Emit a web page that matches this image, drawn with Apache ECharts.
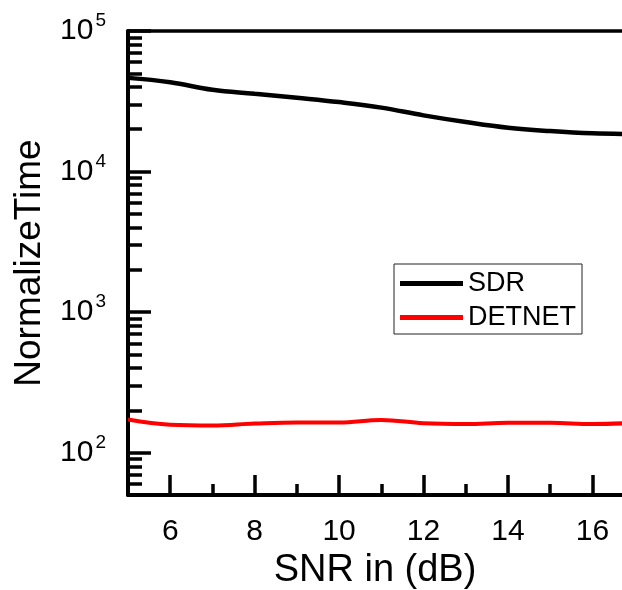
<!DOCTYPE html>
<html>
<head>
<meta charset="utf-8">
<script src="https://cdn.jsdelivr.net/npm/echarts@6/dist/echarts.min.js"></script>
<style>
  html, body { margin: 0; padding: 0; background: #fff; }
  #chart { width: 622px; height: 590px; }
</style>
</head>
<body>
<div id="chart"></div>
<script>
// SNR points (dB)
const snr = [5, 6, 7, 8, 9, 10, 11, 12, 13, 14, 15, 16, 17];
// Normalized run time per detector
const sdr = [46400, 43200, 38200, 35800, 33500, 31200, 28500, 25100, 22500, 20500, 19400, 18700, 18500];
const detnet = [172, 158, 156, 161, 164, 164, 171, 162, 160, 163, 163, 160, 163];

// Axis ticks
const xMajorTicks = [6, 8, 10, 12, 14, 16];
const xMinorTicks = [7, 9, 11, 13, 15];
const yDecades = [100, 1000, 10000, 100000];
const yMinorTicks = [];
[10, 100, 1000, 10000].forEach(function (base) {
  for (let k = 2; k <= 9; k++) {
    const v = k * base;
    if (v >= 50) yMinorTicks.push(v);
  }
});

const FONT = "'Liberation Sans', Arial, sans-serif";
const X_MIN = 5, X_MAX = 16.7;
const chart = echarts.init(document.getElementById('chart'));

chart.setOption({
  animation: false,
  backgroundColor: '#fff',
  grid: { left: 128, right: 0, top: 31, bottom: 95, outerBoundsMode: 'none', containLabel: false },
  legend: {
    left: 394, top: 264,
    orient: 'vertical',
    padding: [6, 6, 3, 6],
    itemGap: 7,
    itemWidth: 63,
    itemHeight: 5,
    itemTextGap: 7,
    icon: 'rect',
    borderColor: '#222',
    borderWidth: 1,
    textStyle: { fontFamily: FONT, fontSize: 27, color: '#000', lineHeight: 26 },
    data: ['SDR', 'DETNET']
  },
  xAxis: [
    {
      type: 'value', min: X_MIN, max: X_MAX, position: 'bottom',
      name: 'SNR in (dB)', nameLocation: 'middle', nameGap: 52,
      nameTextStyle: { fontFamily: FONT, fontSize: 38, color: '#000' },
      axisLine: { show: true, lineStyle: { color: '#000', width: 4 } },
      axisTick: { show: true, inside: true, length: 20, customValues: xMajorTicks,
                  lineStyle: { color: '#000', width: 3.5 } },
      axisLabel: { customValues: xMajorTicks, margin: 22,
                   fontFamily: FONT, fontSize: 30, color: '#000' },
      splitLine: { show: false }
    },
    {
      type: 'value', min: X_MIN, max: X_MAX, position: 'bottom',
      axisLine: { show: false },
      axisTick: { show: true, inside: true, length: 11, customValues: xMinorTicks,
                  lineStyle: { color: '#000', width: 3.5 } },
      axisLabel: { show: false },
      splitLine: { show: false }
    },
    {
      // frame line along the top edge
      type: 'value', min: X_MIN, max: X_MAX, position: 'top',
      axisLine: { show: true, lineStyle: { color: '#000', width: 3.5 } },
      axisTick: { show: false },
      axisLabel: { show: false },
      splitLine: { show: false }
    }
  ],
  yAxis: [
    {
      type: 'log', min: 50, max: 100000, position: 'left',
      name: 'NormalizeTime', nameLocation: 'middle', nameGap: 80,
      nameTextStyle: { fontFamily: FONT, fontSize: 37, color: '#000' },
      axisLine: { show: true, lineStyle: { color: '#000', width: 4 } },
      axisTick: { show: true, inside: true, length: 23, customValues: yDecades,
                  lineStyle: { color: '#000', width: 3.5 } },
      axisLabel: {
        customValues: yDecades, margin: 22,
        formatter: function (v) {
          return '{b|10}{s|' + Math.round(Math.log10(v)) + '}';
        },
        rich: {
          b: { fontFamily: FONT, fontSize: 30, color: '#000' },
          s: { fontFamily: FONT, fontSize: 19, color: '#000', padding: [0, 0, 20, 2] }
        }
      },
      splitLine: { show: false }
    },
    {
      type: 'log', min: 50, max: 100000, position: 'left',
      axisLine: { show: false },
      axisTick: { show: true, inside: true, length: 14, customValues: yMinorTicks,
                  lineStyle: { color: '#000', width: 3.5 } },
      axisLabel: { show: false },
      splitLine: { show: false }
    }
  ],
  series: [
    {
      name: 'SDR', type: 'line', xAxisIndex: 0, yAxisIndex: 0,
      data: snr.map(function (x, i) { return [x, sdr[i]]; }),
      symbol: 'none', smooth: 0.4,
      lineStyle: { color: '#000', width: 4.5 },
      itemStyle: { color: '#000' }
    },
    {
      name: 'DETNET', type: 'line', xAxisIndex: 0, yAxisIndex: 0,
      data: snr.map(function (x, i) { return [x, detnet[i]]; }),
      symbol: 'none', smooth: 0.4,
      lineStyle: { color: '#ff0000', width: 4 },
      itemStyle: { color: '#ff0000' }
    }
  ]
});
</script>
</body>
</html>
